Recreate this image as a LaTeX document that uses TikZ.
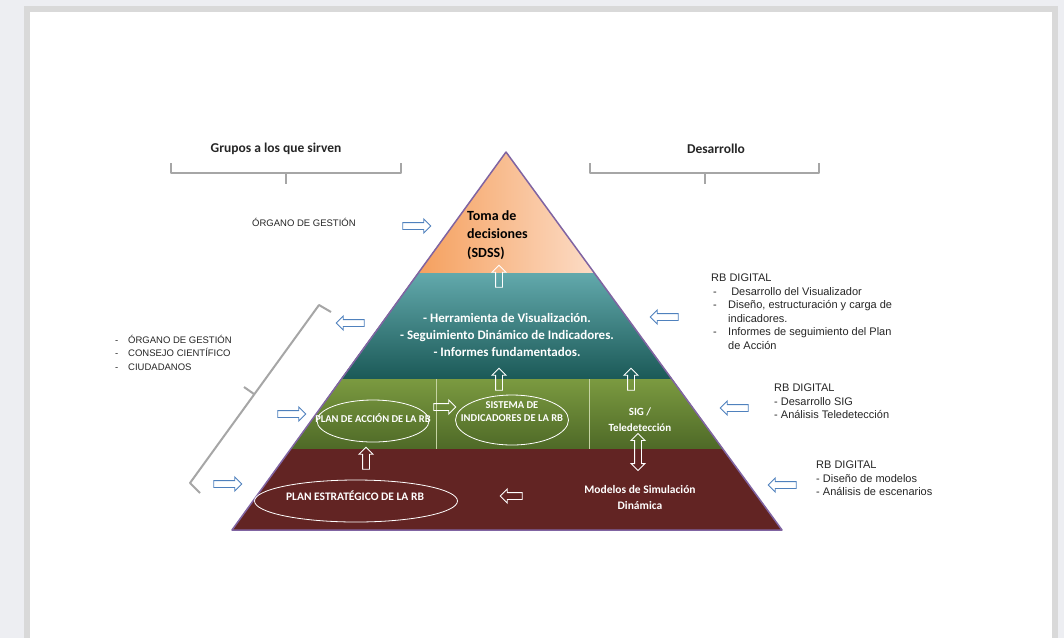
\documentclass[tikz,border=0pt]{standalone}
\usepackage{fontspec}
\setmainfont{Carlito}
\newfontfamily\arialfont{Liberation Sans}
\usetikzlibrary{shapes,shapes.arrows,calc,positioning}

\definecolor{pagebg}{HTML}{EDEEF2}
\definecolor{pageedge}{HTML}{D9D9D9}
\definecolor{bracegray}{HTML}{A6A6A6}
\definecolor{arrowblue}{HTML}{4F81BD}
\definecolor{pyredge}{HTML}{8064A2}
\definecolor{orangeL}{HTML}{F5A05E}
\definecolor{orangeR}{HTML}{FCDCC6}
\definecolor{tealT}{HTML}{62A9AC}
\definecolor{tealB}{HTML}{1B5957}
\definecolor{greenT}{HTML}{7B9A40}
\definecolor{greenB}{HTML}{4E6927}
\definecolor{redbase}{HTML}{622423}
\definecolor{divline}{HTML}{C5D3A2}

\tikzset{
  bluearr/.style={single arrow, draw=arrowblue, fill=white, line width=0.9, inner sep=3,
    single arrow head extend=3.5, minimum height=28},
  whitearr/.style={single arrow, draw=white, line width=0.9, inner sep=3,
    single arrow head extend=3.5, minimum height=22},
  twoway/.style={double arrow, draw=white, line width=0.9, inner sep=3,
    double arrow head extend=3.5, minimum height=37, shape border rotate=90},
  toleft/.style={shape border rotate=180},
  toup/.style={shape border rotate=90},
  bracestyle/.style={draw=bracegray, line width=2, line join=round},
  hdr/.style={font=\bfseries\fontsize{13.5}{16}\selectfont, text=black!85},
  sidetxt/.style={font=\arialfont\fontsize{9.5}{13.5}\selectfont, align=left, inner sep=0,
    anchor=north west, text=black!85},
  rbtxt/.style={sidetxt, font=\arialfont\fontsize{11}{13.5}\selectfont},
  pyrtxt/.style={text=white, align=center, inner sep=0},
  oval/.style={ellipse, draw=white, line width=0.8}
}

\begin{document}
\begin{tikzpicture}[x=1pt, y=-1pt]
  \useasboundingbox (0,0) rectangle (1064,638);
  \fill[pagebg] (0,0) rectangle (1064,638);
  \fill[pageedge] (24,6) rectangle (1058,638);
  \fill[white] (30,12) rectangle (1052,638);

  % pyramid
  \coordinate (apex) at (506,152);
  \coordinate (l1) at (418,273); \coordinate (r1) at (594,273);
  \coordinate (l2) at (341,379); \coordinate (r2) at (672,379);
  \coordinate (l3) at (291,449); \coordinate (r3) at (723,449);
  \coordinate (l4) at (232,530); \coordinate (r4) at (782,530);
  \fill[left color=orangeL, right color=orangeR] (apex) -- (l1) -- (r1) -- cycle;
  \fill[top color=tealT, bottom color=tealB] (l1) -- (r1) -- (r2) -- (l2) -- cycle;
  \fill[top color=greenT, bottom color=greenB] (l2) -- (r2) -- (r3) -- (l3) -- cycle;
  \fill[redbase] (l3) -- (r3) -- (r4) -- (l4) -- cycle;
  \draw[divline, line width=0.6] (436,379) -- (436,449) (589,379) -- (589,449);
  \draw[pyredge, line width=1.5, line join=round] (apex) -- (l4) -- (r4) -- cycle;

  % headers and braces
  \node[hdr] (grupos) at (276,149) {Grupos a los que sirven};
  \node[hdr] (desarrollo) at (716,149) {Desarrollo};
  \draw[bracestyle] (171,163) -- (171,173) -- (401,173) -- (401,163) (286,173) -- (286,184);
  \draw[bracestyle] (590,163) -- (590,173) -- (819,173) -- (819,163) (705,173) -- (705,184);
  \draw[bracestyle] (331,312) -- (319,305) -- (190,483) -- (200,493) (254,394) -- (244,387);

  % texts in the pyramid
  \node[anchor=north west, align=left, inner sep=0, font=\bfseries\fontsize{14}{18.5}\selectfont]
    (toma) at (467,210) {Toma de\\decisiones\\(SDSS)};
  \node[pyrtxt, font=\bfseries\fontsize{13}{17}\selectfont] (herram) at (507,335)
    {- Herramienta de Visualización.\\- Seguimiento Dinámico de Indicadores.\\- Informes fundamentados.};
  \node[oval, minimum width=112, minimum height=42] (ovAccion) at (373,421) {};
  \node[pyrtxt, font=\bfseries\fontsize{10.5}{12}\selectfont] (accion) at (373,418) {PLAN DE ACCIÓN DE LA RB};
  \node[oval, minimum width=113, minimum height=50] (ovSist) at (512,420) {};
  \node[pyrtxt, font=\bfseries\fontsize{10.5}{13}\selectfont] (sistema) at (512,412) {SISTEMA DE\\INDICADORES DE LA RB};
  \node[pyrtxt, font=\bfseries\fontsize{11}{16}\selectfont] (sig) at (640,420) {SIG /\\Teledetección};
  \node[oval, minimum width=203, minimum height=42] (ovEstr) at (356,501) {};
  \node[pyrtxt, font=\bfseries\fontsize{11.5}{13}\selectfont] (estrat) at (355,496) {PLAN ESTRATÉGICO DE LA RB};
  \node[pyrtxt, font=\bfseries\fontsize{11.5}{16}\selectfont] (modelos) at (640,497) {Modelos de Simulación\\Dinámica};

  % side texts
  \node[sidetxt, anchor=west] (organo) at (252,222) {ÓRGANO DE GESTIÓN};
  \node[sidetxt] (grupoList) at (115,335)
    {\makebox[13pt][l]{-}ÓRGANO DE GESTIÓN\\\makebox[13pt][l]{-}CONSEJO CIENTÍFICO\\\makebox[13pt][l]{-}CIUDADANOS};
  \node[rbtxt] (rbVisual) at (711,274)
    {RB DIGITAL\\\hspace*{2pt}\makebox[15pt][l]{-}\ Desarrollo del Visualizador\\
     \hspace*{2pt}\makebox[15pt][l]{-}Diseño, estructuración y carga de\\\hspace*{17pt}indicadores.\\
     \hspace*{2pt}\makebox[15pt][l]{-}Informes de seguimiento del Plan\\\hspace*{17pt}de Acción};
  \node[rbtxt] (rbSig) at (774,384) {RB DIGITAL\\- Desarrollo SIG\\- Análisis Teledetección};
  \node[rbtxt] (rbModel) at (816,461) {RB DIGITAL\\- Diseño de modelos\\- Análisis de escenarios};

  % block arrows
  \node[bluearr] (aOrg) at (415,226) {};
  \node[bluearr, toleft] (aHerr) at (352,323) {};
  \node[bluearr, toleft] (aVis) at (666,317) {};
  \node[bluearr] (aAcc) at (290,414) {};
  \node[bluearr, toleft] (aSig) at (736,408) {};
  \node[bluearr] (aEst) at (226,484) {};
  \node[bluearr, toleft] (aMod) at (784,485) {};
  \node[whitearr, toup] (wToma) at (499,278) {};
  \node[whitearr, toup] (wSist) at (499,381) {};
  \node[whitearr, toup] (wSig) at (631,381) {};
  \node[whitearr] (wAcc) at (443,407) {};
  \node[whitearr, toup] (wEst) at (366,460) {};
  \node[twoway] (wMod) at (638,452) {};
  \node[whitearr, toleft] (wMod2) at (513,496) {};
\end{tikzpicture}
\end{document}
